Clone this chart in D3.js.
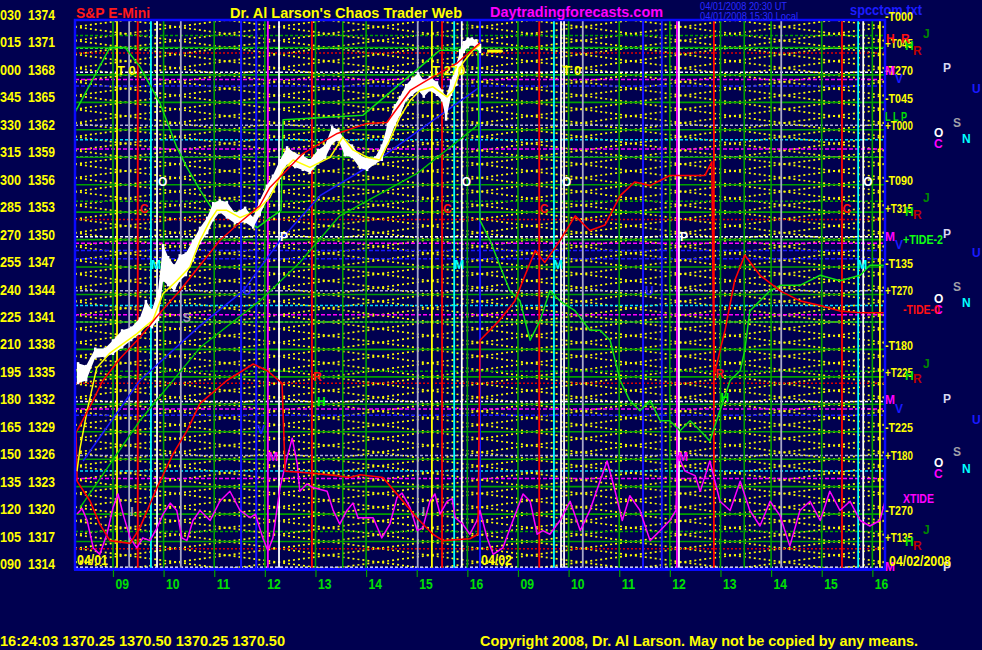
<!DOCTYPE html>
<html><head><meta charset="utf-8">
<script src="https://cdn.jsdelivr.net/npm/d3@7"></script>
<style>html,body{margin:0;padding:0;background:#000050;}svg{display:block}</style>
</head><body><svg id="c" width="982" height="650"></svg>
<script>
// ---------------- DATA ----------------
const priceTicks=[1374,1371,1368,1365,1362,1359,1356,1353,1350,1347,1344,1341,1338,1335,1332,1329,1326,1323,1320,1317,1314];
const degreeLabels=["030","015","000","345","330","315","300","285","270","255","240","225","210","195","180","165","150","135","120","105","090"];
const hourTicks=[9,10,11,12,13,14,15,16,17,18,19,20,21,22,23,24];
const hourLabels=["09","10","11","12","13","14","15","16","09","10","11","12","13","14","15","16"];

// price bars (session hours, high, low) - day 1
const barTimes=[8.31,8.47,8.65,8.84,9.00,9.18,9.36,9.53,9.65,9.77,9.89,9.99,10.09,10.21,10.32,10.44,10.58,10.72,10.86,10.98,11.11,11.25,11.41,11.61,11.77,11.90,12.04,12.16,12.30,12.44,12.60,12.75,12.89,13.05,13.19,13.33,13.45,13.58,13.72,13.88,14.02,14.18,14.31,14.43,14.57,14.67,14.79,14.91,15.03,15.14,15.26,15.40,15.50,15.58,15.68,15.78,15.86,15.93,16.01,16.09,16.17,16.25];
const barHighs=[1336.5,1336.2,1338.1,1338.1,1339.0,1340.1,1340.4,1341.4,1343.3,1342.3,1344.4,1349.4,1348.1,1347.2,1348.3,1348.5,1349.9,1351.3,1352.4,1354.0,1354.3,1354.1,1352.9,1353.5,1352.4,1354.3,1355.9,1357.0,1358.7,1360.1,1359.4,1359.2,1358.7,1359.8,1360.3,1362.3,1362.0,1360.9,1360.3,1359.2,1358.9,1359.0,1360.3,1362.7,1364.7,1365.6,1366.9,1367.6,1368.2,1367.4,1367.8,1367.2,1366.3,1365.6,1367.4,1369.1,1370.7,1371.6,1372.0,1372.0,1371.8,1371.3];
const barLows=[1334.3,1334.6,1337.1,1337.2,1337.5,1338.2,1339.0,1339.7,1340.6,1340.4,1341.2,1345.5,1345.0,1344.4,1345.5,1346.1,1347.7,1349.6,1350.7,1352.1,1353.0,1352.4,1351.8,1351.9,1351.3,1352.7,1354.3,1355.4,1356.7,1358.3,1357.9,1357.6,1357.3,1358.3,1358.9,1360.5,1360.9,1359.2,1359.0,1357.8,1357.6,1358.3,1358.7,1360.5,1362.5,1363.6,1365.2,1365.8,1366.3,1365.6,1366.3,1365.8,1365.2,1363.1,1365.8,1366.9,1369.1,1370.5,1371.0,1371.3,1370.9,1370.5];
const lastPrice=[[16.39,1370.6],[16.69,1370.6]];

// curves [hour, price]
const redAvg=[[8.29,1329.1],[8.55,1331.8],[8.80,1334.6],[9.14,1337.0],[9.53,1339.3],[9.93,1342.0],[10.32,1344.4],[10.72,1347.2],[11.11,1349.9],[11.51,1351.9],[11.90,1353.7],[12.10,1355.7],[12.75,1359.4],[13.43,1361.6],[14.02,1362.7],[14.41,1362.8],[14.87,1366.3],[15.20,1367.4],[15.80,1369.3],[16.25,1371.5]];
const yellowAvg=[[8.29,1324.7],[8.35,1327.2],[8.49,1331.3],[8.68,1336.0],[8.94,1337.6],[9.47,1339.7],[9.79,1341.2],[9.99,1344.1],[10.26,1345.5],[10.52,1347.0],[10.72,1349.9],[10.92,1352.1],[11.05,1353.2],[11.25,1353.2],[11.51,1352.4],[11.85,1353.2],[12.10,1354.6],[12.36,1357.6],[12.56,1358.7],[12.89,1357.9],[13.29,1359.0],[13.54,1361.2],[13.74,1359.8],[14.02,1359.0],[14.27,1358.7],[14.47,1360.9],[14.67,1363.4],[14.87,1365.2],[15.06,1366.3],[15.32,1366.7],[15.60,1365.6],[15.72,1366.3],[15.91,1369.3],[16.11,1370.7],[16.25,1371.3]];
const blueLine=[[8.41,1325.8],[9.53,1334.6],[10.72,1340.6],[11.57,1344.4],[12.30,1349.9],[13.09,1354.8],[14.08,1358.1],[15.06,1362.0],[16.25,1366.7]];
const greenUpper=[[8.25,1363.9],[8.94,1371.0],[9.24,1371.0],[9.53,1368.9],[9.93,1364.9],[10.26,1360.1],[10.46,1357.9],[10.72,1355.4],[10.98,1353.2],[11.31,1352.9],[11.57,1352.4],[11.85,1351.3],[12.04,1352.1],[12.32,1353.2],[12.36,1363.1],[13.94,1363.6],[15.46,1370.7],[16.21,1370.7],[16.25,1352.1],[16.45,1349.9],[16.64,1347.2],[16.84,1344.4],[17.04,1343.3],[17.24,1339.0],[17.44,1341.2],[17.63,1344.4],[17.83,1343.3],[18.13,1342.2],[18.42,1340.1],[18.62,1340.1],[18.82,1339.0],[19.02,1334.6],[19.21,1332.4],[19.41,1331.3],[19.61,1332.4],[19.81,1330.2],[20.00,1330.2],[20.20,1329.1],[20.40,1330.2],[20.60,1329.1],[20.79,1328.0],[20.99,1331.3],[21.19,1334.6],[21.39,1335.7],[21.48,1337.9],[21.58,1342.2],[21.78,1343.3],[21.98,1344.4],[22.18,1345.0],[22.57,1345.0],[22.97,1346.1],[23.36,1345.5],[23.76,1346.1],[23.95,1347.2],[24.25,1347.2]];
const greenLower=[[8.35,1320.7],[9.53,1330.2],[10.72,1338.2],[11.90,1343.3],[12.69,1347.5],[13.48,1352.6],[15.00,1357.2],[16.25,1362.7]];
const redLower=[[8.27,1329.1],[8.29,1323.6],[8.55,1321.4],[8.74,1318.9],[8.94,1317.1],[9.34,1316.8],[9.53,1318.5],[9.87,1322.9],[10.19,1326.6],[10.46,1329.1],[10.72,1332.1],[11.25,1334.6],[11.77,1336.4],[12.04,1335.7],[12.34,1334.3],[12.40,1324.7],[12.89,1324.5],[13.43,1324.2],[13.68,1324.0],[13.88,1324.3],[14.33,1324.0],[14.67,1321.8],[15.00,1319.6],[15.32,1317.8],[15.52,1317.1],[16.05,1317.3],[16.21,1317.8],[16.25,1339.0],[16.64,1341.2],[16.94,1343.3],[17.14,1346.1],[17.34,1348.8],[17.53,1347.5],[17.83,1349.9],[18.13,1352.6],[18.42,1351.0],[18.72,1351.6],[19.02,1354.8],[19.31,1356.3],[19.61,1355.9],[20.00,1357.0],[20.40,1357.0],[20.69,1357.0],[20.83,1358.5],[20.87,1335.1],[21.09,1340.1],[21.28,1345.5],[21.48,1348.3],[21.78,1346.1],[22.18,1344.4],[22.57,1343.3],[22.97,1342.8],[23.36,1342.2],[23.76,1342.0],[24.25,1342.0]];
const xtide=[[8.29,1320.0],[8.39,1320.6],[8.49,1319.3],[8.61,1316.3],[8.74,1315.6],[8.88,1317.8],[9.00,1320.7],[9.10,1322.2],[9.20,1320.0],[9.34,1317.4],[9.47,1316.3],[9.59,1317.4],[9.73,1317.1],[9.87,1318.5],[9.99,1320.0],[10.13,1321.2],[10.26,1320.4],[10.36,1317.4],[10.46,1317.1],[10.58,1319.3],[10.72,1320.4],[10.92,1319.3],[11.11,1321.4],[11.31,1322.5],[11.51,1320.4],[11.71,1319.6],[11.81,1320.0],[11.96,1317.4],[12.06,1316.0],[12.16,1317.4],[12.30,1322.9],[12.44,1326.2],[12.54,1328.3],[12.64,1325.5],[12.69,1322.5],[12.83,1323.3],[12.95,1322.9],[13.23,1322.5],[13.35,1320.4],[13.48,1318.9],[13.62,1320.4],[13.74,1321.2],[13.84,1319.6],[14.14,1319.6],[14.31,1317.4],[14.47,1318.9],[14.61,1321.8],[14.71,1322.3],[14.87,1320.7],[15.01,1318.2],[15.12,1318.5],[15.26,1321.4],[15.36,1322.2],[15.46,1320.0],[15.60,1321.4],[15.70,1321.7],[15.76,1319.6],[15.91,1318.9],[16.05,1317.8],[16.19,1319.3],[16.25,1320.4],[16.39,1317.4],[16.51,1315.6],[16.70,1316.3],[16.90,1319.3],[17.10,1322.2],[17.24,1321.4],[17.38,1317.8],[17.49,1318.2],[17.63,1317.8],[17.83,1319.3],[18.03,1321.4],[18.23,1318.2],[18.42,1320.4],[18.62,1323.6],[18.76,1325.8],[18.92,1322.5],[19.06,1319.3],[19.21,1322.0],[19.41,1320.4],[19.61,1317.1],[19.81,1318.2],[20.00,1319.3],[20.12,1320.4],[20.16,1326.4],[20.30,1324.7],[20.50,1324.2],[20.60,1322.5],[20.79,1325.8],[20.99,1321.4],[21.19,1320.4],[21.39,1323.6],[21.58,1320.4],[21.78,1318.7],[21.98,1321.4],[22.18,1319.8],[22.37,1316.5],[22.57,1320.4],[22.77,1321.4],[22.97,1319.3],[23.16,1322.5],[23.36,1320.4],[23.56,1321.4],[23.76,1319.3],[23.95,1318.7],[24.15,1319.3],[24.25,1321.4]];

// vertical time lines (session hours) by colour
const vGreen=[9,10,11,12,13,13.54,14,16,17,18,19,20,21,21.47,22,23,24];
const vYellow=[9.08,15.30,24.15];
const vGrey=[9.32,10.34,15.02,18.28,22.2];
const vRed=[9.49,12.93,15.50,17.42,20.87,23.4];
const vCyan=[9.75,15.74,17.71,23.72];
const vWhite=[9.87,12.28,15.89,17.85,17.91,20.18,23.82];
const vBlue=[11.53,11.83,16.25,19.47,19.84];
const vMagenta=[12.06,20.14];

// horizontal price levels by colour
const hRed=[1370.4,1352.2,1334.3,1316.2];
const hMagenta=[1367.5,1359.9,1349.6,1341.8,1331.5,1323.9];
const hBlue=[1366.8,1348.8,1347.9,1330.8];
const hWhite=[1368.3,1359.0,1350.3,1341.0,1332.3,1314.2];
const hLavender=[1362.5,1344.4,1326.4];
const hCyan=[1360.9,1342.8,1324.7];
const hGreenDash=[1372.3,1354.2,1335.6,1318.1];
const hLime=[1370.9];

// yellow harmonic lattice
const latticeLevels=[1310.25,1311.75,1313.25,1314.75,1316.25,1317.75,1319.25,1320.75,1322.25,1323.75,1325.25,1326.75,1328.25,1329.75,1331.25,1332.75,1334.25,1335.75,1337.25,1338.75,1340.25,1341.75,1343.25,1344.75,1346.25,1347.75,1349.25,1350.75,1352.25,1353.75,1355.25,1356.75,1358.25,1359.75,1361.25,1362.75,1364.25,1365.75,1367.25,1368.75,1370.25,1371.75,1373.25,1374.75];
const latticeNodes=[8.25,12.25,16.25,20.25,24.25];
const latticeSpan=3;

// in-plot markers [text, hour, price]
const yellowMarks=[["T 0",9.08,1368.0],["T 270",15.30,1368.0],["T 0",17.88,1368.0]];
const whiteMarks=[["O",9.89,1355.9],["O",15.89,1355.9],["O",17.87,1355.9],["O",23.82,1355.9],["P",12.30,1349.9],["P",20.20,1349.9]];
const redMarks=[["C",9.53,1352.9],["C",15.52,1352.9],["C",17.43,1352.9],["C",23.41,1352.9],["R",12.95,1334.6],["R",20.90,1334.9]];
const cyanMarks=[["M",9.75,1346.8],["M",15.74,1346.8],["M",17.69,1346.8],["M",23.70,1346.8]];
const blueMarks=[["U",11.57,1344.0],["V",11.85,1328.8],["U",19.51,1344.0]];
const greyMarks=[["S",10.38,1341.0],["I",9.34,1319.8],["I",15.10,1319.8]];
const magentaMarks=[["M",12.06,1325.8],["M",20.16,1325.8]];
const greenMarks=[["H",13.03,1331.8],["H",21.0,1332.2]];
const dateMarks=[["04/01",8.29,1314.2],["04/02",16.27,1314.2]];

// right-hand labels
const rightT=[["-T000",1374],["+T045",1371],["-T270",1368],["-T045",1365],["+T000",1362],["-T090",1356],["+T315",1353],["-T135",1347],["+T270",1344],["-T180",1338],["+T225",1335],["-T225",1329],["+T180",1326],["-T270",1320],["+T135",1317]];
const jLevels=[1372.0,1354.1,1336.0,1317.8];
const hLevels=[1370.7,1352.6,1334.7,1316.5];
const rLevels=[1370.2,1352.3,1334.3,1316.1];
const pLevels=[1368.3,1350.2,1332.1,1313.8];
const mLevels=[1368.0,1349.9,1332.0,1313.8];
const vLevels=[1367.1,1349.0,1331.0];
const uLevels=[1366.0,1348.1,1329.9];
const sLevels=[1362.3,1344.4,1326.3];
const oLevels=[1361.2,1343.1,1325.1];
const nLevels=[1360.6,1342.6,1324.5];
const cLevels=[1360.0,1341.9,1323.9];
const tideLabels=[["+TIDE-2",1349.5],["-TIDE-0",1341.9],["XTIDE",1321.2]];

// ---------------- DRAW ----------------
const NARROW="'Liberation Sans Narrow','Arial Narrow','Liberation Sans',Arial,sans-serif";
const SANS="'Liberation Sans',Arial,Helvetica,sans-serif";
const BG="#000050";
const svg=d3.select("#c");
svg.append("rect").attr("width",982).attr("height",650).attr("fill",BG);

const x=d3.scaleLinear().domain([8.25,24.25]).range([75,885]);
const y=d3.scaleLinear().domain([1314,1374]).range([569,20]);
const line=d3.line().x(d=>x(d[0])).y(d=>y(d[1]));

svg.append("defs").append("clipPath").attr("id","pc").append("rect")
  .attr("x",75).attr("y",20).attr("width",810).attr("height",549);
const plot=svg.append("g").attr("clip-path","url(#pc)");

// lattice
const latG=plot.append("g").attr("fill","none").attr("stroke","#ffff00").attr("stroke-width",1.7).attr("stroke-dasharray","2,3");
latticeLevels.forEach(L=>{
  [0,1].forEach(f=>{
    const pts=latticeNodes.map((h,k)=>[h,L+((k+f)%2)*latticeSpan]);
    latG.append("path").attr("d",line(pts));
  });
});

// horizontal dashed levels
function hLines(vals,color,dash,w){
  plot.append("g").selectAll("line").data(vals).join("line")
    .attr("x1",75).attr("x2",885).attr("y1",d=>y(d)).attr("y2",d=>y(d))
    .attr("stroke",color).attr("stroke-width",w||1.5).attr("stroke-dasharray",dash);
}
hLines(hGreenDash,"#00a000","3,2");
hLines(hLime,"#40ff40","3,2");
hLines(hRed,"#e00000","2,2");
hLines(hMagenta,"#ff00ff","4,2");
hLines(hBlue,"#1a1aff","4,2");
hLines(hWhite,"#ffffff","3,2");
hLines(hLavender,"#b0b0d8","3,2");
hLines(hCyan,"#00e0ff","3,2");
// solid green price grid
plot.append("g").selectAll("line").data(priceTicks).join("line")
  .attr("x1",75).attr("x2",885).attr("y1",d=>y(d)).attr("y2",d=>y(d))
  .attr("stroke","#00a000").attr("stroke-width",1.6);

// vertical lines
function vLines(vals,color,w){
  plot.append("g").selectAll("line").data(vals).join("line")
    .attr("x1",d=>x(d)).attr("x2",d=>x(d)).attr("y1",20).attr("y2",569)
    .attr("stroke",color).attr("stroke-width",w||1.8);
}
vLines(vGreen,"#00a000",1.6);
vLines(vGrey,"#a8a8c8");
vLines(vYellow,"#ffff00");
vLines(vRed,"#ff0000");
vLines(vCyan,"#00ffff");
vLines(vWhite,"#ffffff");
vLines(vBlue,"#1414ff",2);
vLines(vMagenta,"#ff00ff");

// curves
function curve(data,color,w){
  plot.append("path").datum(data).attr("d",line).attr("fill","none")
    .attr("stroke",color).attr("stroke-width",w||1.5).attr("stroke-linejoin","round");
}
curve(xtide,"#ff00ff",1.5);
curve(greenLower,"#00c800",1.4);
curve(blueLine,"#1a1aff",1.5);
curve(greenUpper,"#10e010",1.5);
curve(redLower,"#ff0000",1.6);

// price bars
const bars=barTimes.map((t,i)=>({t,h:barHighs[i],l:barLows[i]}));
plot.append("path").datum(bars)
  .attr("d",d3.area().x(d=>x(d.t)).y0(d=>y(d.l)).y1(d=>y(d.h)))
  .attr("fill","#ffffff");
plot.append("g").selectAll("line").data(bars).join("line")
  .attr("x1",d=>x(d.t)).attr("x2",d=>x(d.t)).attr("y1",d=>y(d.h)-1).attr("y2",d=>y(d.l)+1)
  .attr("stroke","#ffffff").attr("stroke-width",2.5);
curve(yellowAvg,"#ffff00",1.5);
curve(redAvg,"#ff0000",1.5);
curve(lastPrice,"#ffff00",3);

// in-plot marks
function marks(list,color,size){
  plot.append("g").selectAll("text").data(list).join("text")
    .attr("x",d=>x(d[1])).attr("y",d=>y(d[2])).text(d=>d[0])
    .attr("fill",color).attr("font-family",SANS).attr("font-weight","bold").attr("font-size",size||12);
}
marks(yellowMarks,"#ffff00",13);
marks(whiteMarks,"#ffffff");
marks(redMarks,"#ff1010");
marks(cyanMarks,"#00ffff");
marks(blueMarks,"#2020ff");
marks(greyMarks,"#a0a0b0");
marks(magentaMarks,"#ff00ff");
marks(greenMarks,"#00ff00");
plot.append("g").selectAll("text").data(dateMarks).join("text")
  .attr("x",d=>x(d[1])).attr("y",d=>y(d[2])-2).text(d=>d[0])
  .attr("fill","#ffff00").attr("font-family",NARROW).attr("font-weight","bold").attr("font-size",14)
  .attr("textLength",31).attr("lengthAdjust","spacingAndGlyphs");

// plot border
svg.append("rect").attr("x",75).attr("y",20).attr("width",810).attr("height",549)
  .attr("fill","none").attr("stroke","#0a0aff").attr("stroke-width",2.5);
svg.append("line").attr("x1",74).attr("x2",886).attr("y1",569.5).attr("y2",569.5).attr("stroke","#0a0aff").attr("stroke-width",3);

// left axes (price and degree)
const axP=svg.append("g").attr("transform","translate(55,0)")
  .call(d3.axisLeft(y).tickValues(priceTicks).tickSize(0).tickPadding(0).tickFormat(d3.format("d")));
const axD=svg.append("g").attr("transform","translate(21,0)")
  .call(d3.axisLeft(y).tickValues(priceTicks).tickSize(0).tickPadding(0).tickFormat((d,i)=>degreeLabels[i]));
[axP,axD].forEach((g,k)=>{
  g.select(".domain").remove();
  g.selectAll("text").attr("dy",null).attr("y",-0.5).attr("fill","#ffff00")
    .attr("font-family",NARROW).attr("font-weight","bold").attr("font-size",15)
    .attr("textLength",k===0?27:21).attr("lengthAdjust","spacingAndGlyphs");
});

// bottom axis
const axB=svg.append("g").attr("transform","translate(0,570)")
  .call(d3.axisBottom(x).tickValues(hourTicks).tickSize(7).tickPadding(0).tickFormat((d,i)=>hourLabels[i]));
axB.select(".domain").remove();
axB.selectAll("line").attr("stroke","#00a000").attr("stroke-width",1.2);
axB.selectAll("text").attr("dy",null).attr("y",19).attr("x",2).attr("text-anchor","start")
  .attr("fill","#00e000").attr("font-family",NARROW).attr("font-weight","bold").attr("font-size",15)
  .attr("textLength",13.5).attr("lengthAdjust","spacingAndGlyphs");

// generic text helper
function txt(s,x0,y0,color,size,width,family,weight){
  const t=svg.append("text").attr("x",x0).attr("y",y0).text(s).attr("fill",color)
    .attr("font-family",family||NARROW).attr("font-weight",weight||"bold").attr("font-size",size);
  if(width) t.attr("textLength",width).attr("lengthAdjust","spacingAndGlyphs");
  return t;
}
// header
txt("S&P E-Mini",76,18,"#ff1a1a",15,74,SANS);
txt("Dr. Al Larson's Chaos Trader Web",230,18,"#ffff00",15,232,SANS);
txt("Daytradingforecasts.com",490,17,"#ff00ff",15,173,SANS);
txt("04/01/2008 20:30 UT",700,10,"#2a2aff",10,87,SANS,"normal");
txt("04/01/2008 15:30 Local",700,20,"#2a2aff",10,98,SANS,"normal");
txt("spcctom.txt",850,15,"#1c1cff",15,72,SANS);

// right-hand labels
rightT.forEach(d=>txt(d[0],885,y(d[1])+0.5,"#ffff00",13,28));
const lc=[[jLevels,"J",923,"#008800"],[hLevels,"H",905,"#00e000"],[rLevels,"R",913,"#c00000"],
  [pLevels,"P",943,"#d8d8f0"],[mLevels,"M",885,"#ff00ff"],[vLevels,"V",895,"#1a1aff"],[uLevels,"U",972,"#1a1aff"],
  [sLevels,"S",953,"#a0a0a8"],[oLevels,"O",934,"#ffffff"],[nLevels,"N",962,"#00ffff"],[cLevels,"C",934,"#ff00ff"]];
lc.forEach(([lv,ch,x0,col])=>lv.forEach(p=>txt(ch,x0,y(p),col,12,null,SANS)));
txt("H",886,y(1371.5),"#ff1010",12,null,SANS);
txt("R",901,y(1371.5),"#ff1010",12,null,SANS);
txt("L L P",885,y(1363.0),"#00e000",12,22,SANS);
const tideCol=["#10ff10","#ff1010","#ff00ff"];
const tideW=[40,37,31];
tideLabels.forEach((d,i)=>txt(d[0],903,y(d[1]),tideCol[i],13,tideW[i],SANS));
txt("04/02/2008",889,566,"#ffff00",14,62);

// footer
txt("16:24:03  1370.25 1370.50 1370.25 1370.50",0,646,"#ffff00",15,285);
txt("Copyright 2008, Dr. Al Larson. May not be copied by any means.",480,646,"#ffff00",15,438);
</script></body></html>
